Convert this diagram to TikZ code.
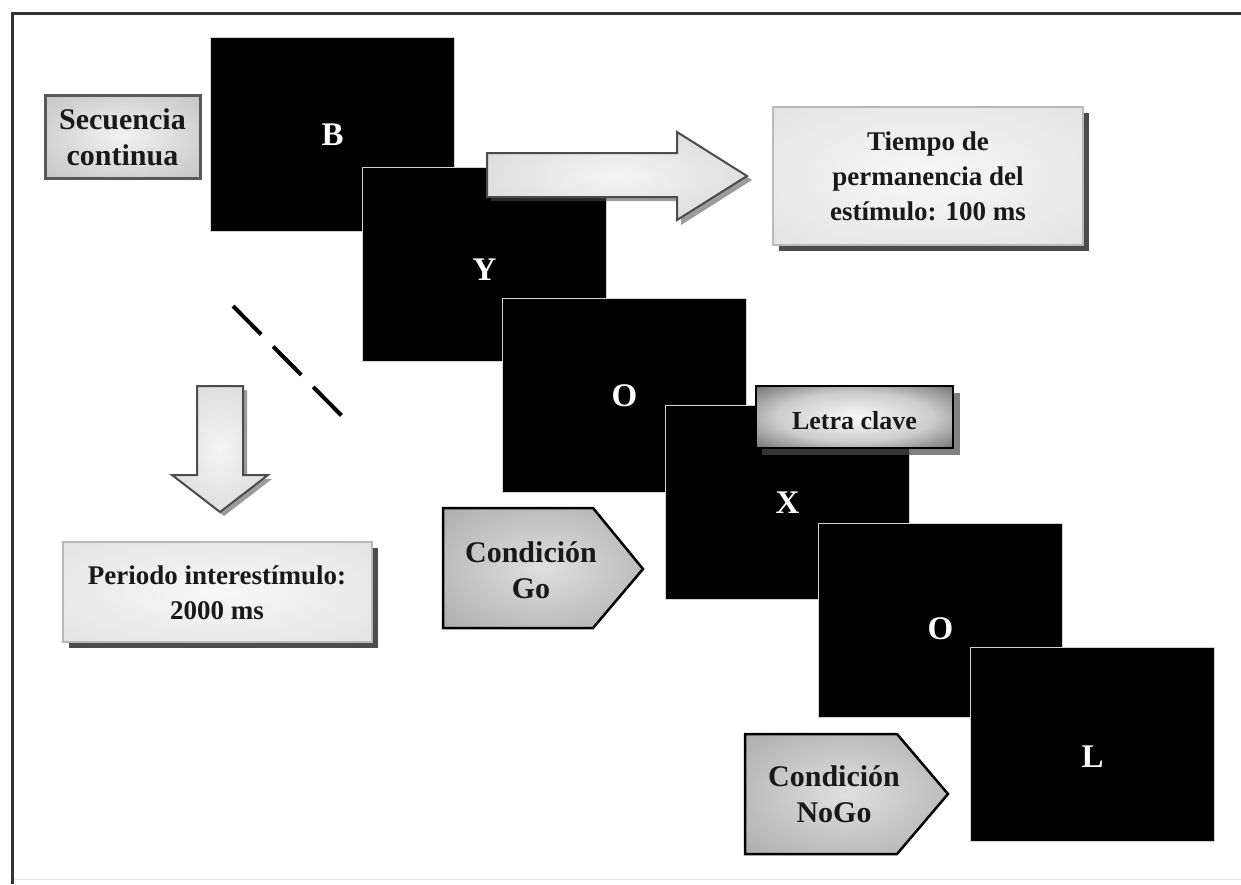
\documentclass[tikz,border=0pt]{standalone}
\usepackage{fontspec}
\setmainfont{Liberation Serif}

% radial glows, stretched over each shape's bounding box
\pgfdeclareradialshading{glowgray}{\pgfpoint{0bp}{0bp}}{color(0bp)=(gray!10); color(50bp)=(gray!60); color(75bp)=(gray!68)}
\pgfdeclareradialshading{glowdark}{\pgfpoint{0bp}{0bp}}{color(0bp)=(gray!4); color(20bp)=(gray!40); color(40bp)=(gray!70!black); color(50bp)=(black!88); color(75bp)=(black)}
\pgfdeclareradialshading{glowmid}{\pgfpoint{0bp}{0bp}}{color(0bp)=(gray!25); color(50bp)=(gray!80); color(75bp)=(gray!90)}
\pgfdeclareradialshading{glowpale}{\pgfpoint{0bp}{0bp}}{color(0bp)=(gray!6); color(50bp)=(gray!28); color(75bp)=(gray!34)}
\pgfdeclareradialshading{glowarrow}{\pgfpoint{0bp}{0bp}}{color(0bp)=(gray!8); color(50bp)=(gray!42); color(75bp)=(gray!55)}

\tikzset{
  screen/.style={fill=black, draw=gray!35, line width=1pt, anchor=north west,
    minimum width=244pt, minimum height=194pt, inner sep=0pt},
  stimulus/.style={text=white, font=\bfseries\fontsize{33}{38}\selectfont, inner sep=0pt},
  labeltext/.style={text=black!90, font=\bfseries\fontsize{27}{35}\selectfont, align=center, inner sep=0pt},
  condtext/.style={text=black!90, font=\bfseries\fontsize{30}{36}\selectfont, align=center, inner sep=0pt},
  dropshadow/.style={fill=gray!60!black},
  palebox/.style={shading=glowpale, draw=gray!55, line width=1.2pt},
  blockarrow/.style={shading=glowarrow, draw=gray!60!black, line width=2pt, line join=miter},
  condshape/.style={shading=glowmid, draw=black, line width=2.5pt, line join=miter},
}

\begin{document}
\begin{tikzpicture}[x=1pt, y=-1pt]
  \useasboundingbox (0,0) rectangle (1241,884);
  \fill[white] (0,0) rectangle (1241,884);

  % outer frame
  \draw[gray!20, line width=1pt] (12,879) -- (1241,879);
  \draw[black!80, line width=3pt] (12.5,884) -- (12.5,13) -- (1241,13);

  % stimulus screens
  \node[screen] (sB)  at (210,37)  {};
  \node[screen] (sY)  at (362,167) {};
  \node[screen] (sO1) at (502,298) {};
  \node[screen] (sX)  at (665,405) {};
  \node[screen] (sO2) at (818,523) {};
  \node[screen] (sL)  at (970,647) {};
  \node[stimulus] (lB)  at (sB.center)  {B};
  \node[stimulus] (lY)  at ([yshift=-5pt]sY.center)  {Y};
  \node[stimulus] (lO1) at (sO1.center) {O};
  \node[stimulus] (lX)  at (sX.center)  {X};
  \node[stimulus] (lO2) at ([yshift=-8pt]sO2.center) {O};
  \node[stimulus] (lL)  at ([yshift=-12pt]sL.center)  {L};

  % continuous sequence label
  \path[shading=glowgray, draw=black!65, line width=3pt] (45,95) rectangle (200,178);
  \node[condtext] (seq) at (122.5,137) {Secuencia\\continua};

  % stimulus duration arrow and label
  \fill[dropshadow, opacity=0.55] (491,157) -- (681,157) -- (681,137) -- (752,180) -- (681,225) -- (681,201) -- (491,201) -- cycle;
  \path[blockarrow] (487,153) -- (677,153) -- (677,132) -- (747,176) -- (677,220) -- (677,197) -- (487,197) -- cycle;
  \fill[dropshadow] (779,113) rectangle (1089,251);
  \path[palebox] (773,107) rectangle (1083,245);
  \node[labeltext] (dur) at (928,176) {Tiempo de\\permanencia del\\estímulo: 100 ms};

  % omitted trials
  \draw[black, line width=4pt, dash pattern=on 40pt off 17pt] (233,306) -- (342,416);

  % inter-stimulus interval arrow and label
  \fill[dropshadow, opacity=0.55] (201,390) -- (247,390) -- (247,479) -- (272,479) -- (224,516) -- (176,479) -- (201,479) -- cycle;
  \path[blockarrow] (197,386) -- (243,386) -- (243,475) -- (268,475) -- (220,512) -- (172,475) -- (197,475) -- cycle;
  \fill[dropshadow] (69,548) rectangle (378,648);
  \path[palebox] (63,542) rectangle (372,642);
  \node[labeltext] (isi) at (217,593) {Periodo interestímulo:\\2000 ms};

  % key letter label
  \fill[dropshadow, opacity=0.7] (762,393) rectangle (960,455);
  \path[shading=glowdark, draw=black, line width=2pt] (756,386) rectangle (953,448);
  \node[text=black!90, font=\bfseries\fontsize{26}{30}\selectfont, inner sep=0pt] (key) at (854.5,421) {Letra clave};

  % Go / NoGo condition tags
  \path[condshape] (443,508) -- (593,508) -- (643,569) -- (593,628) -- (443,628) -- cycle;
  \node[condtext] (go) at (531,570) {Condición\\Go};
  \path[condshape] (745,734) -- (897,734) -- (948,794) -- (897,854) -- (745,854) -- cycle;
  \node[condtext] (nogo) at (834,794) {Condición\\NoGo};
\end{tikzpicture}
\end{document}
